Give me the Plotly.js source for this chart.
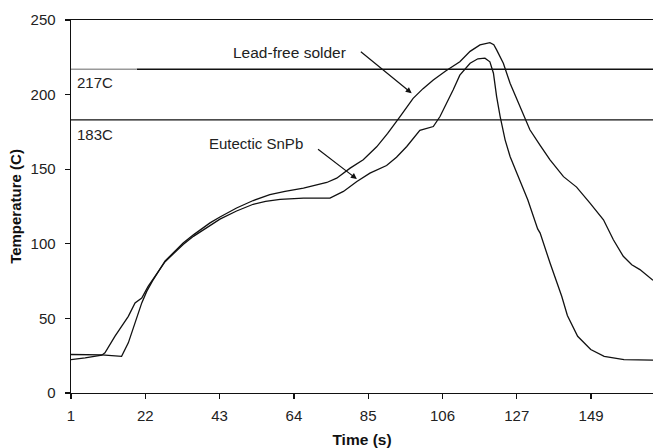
<!DOCTYPE html>
<html>
<head>
<meta charset="utf-8">
<script src="https://cdn.plot.ly/plotly-3.0.1.min.js"></script>
<style>html,body{margin:0;padding:0;background:#fff;}#chart{width:653px;height:448px;}</style>
</head>
<body>
<div id="chart"></div>
<script>
// Lead-free solder profile
const leadFreeTime = [1, 9.7, 15.3, 17.2, 19.1, 21, 22.4, 24, 27.6, 30.9, 32.7, 35.6, 40.3, 43.1, 47.8, 52.5, 57.2, 61.5, 66.7, 73.3, 76.1, 79.9, 83.6, 87.4, 90.5, 94, 97.7, 100.5, 103.4, 107, 110.9, 113.8, 116.6, 119.4, 120.5, 121.3, 123.2, 125.1, 127.9, 130.7, 133.6, 136.4, 140.2, 143.9, 147.7, 151.5, 154.3, 157.1, 159.5, 161.8, 165.5];
const leadFreeTemp = [25.8, 25.5, 24.6, 33.6, 47, 60.4, 68.1, 75, 88.5, 96.5, 100.5, 106, 114, 118, 124, 129, 132.9, 135.2, 137.3, 141.1, 144, 150.7, 156.3, 165, 174, 185.3, 197.5, 204, 209.8, 216, 222, 229, 233.3, 234.8, 233.5, 230, 221, 207.6, 192, 176.4, 166, 156.3, 145, 138, 127.3, 116.1, 102.7, 91.6, 86, 82.7, 75.5];
// Eutectic SnPb profile
const snpbTime = [1, 5, 9.7, 10.6, 13.4, 15.8, 17.2, 19.1, 21, 22.8, 27.6, 30.9, 32.7, 35.6, 40.3, 43.1, 47.8, 52.5, 56, 60.1, 66.7, 74.2, 78, 81.8, 85.5, 90.2, 93, 95.9, 99.6, 103.4, 105.3, 107, 109, 110.9, 113.8, 116, 118, 119.4, 120.4, 121.3, 122.3, 123.7, 125.1, 127, 128.8, 130.1, 132.9, 133.6, 136.4, 139.7, 141.3, 144.2, 147.9, 151.7, 157.3, 165.5];
const snpbTemp = [22.4, 23.5, 25.3, 26.9, 38, 46, 51.4, 60.4, 63.7, 71.5, 88, 95.5, 99.5, 105, 112.5, 116.5, 122, 126.5, 128.5, 129.8, 130.6, 130.6, 135.1, 141.8, 147.4, 152.5, 158, 165.2, 176, 178.6, 185.3, 193, 203.1, 213, 221, 224, 224.4, 222, 214.3, 198.7, 185.3, 169.7, 158.5, 147.4, 136.2, 129.5, 110, 107.2, 87.1, 64.8, 52, 38, 29.1, 24.6, 22.4, 22];
// Melting point reference lines
const meltTemps = [217, 183];
const meltLabels = ['217C', '183C'];
// Axis ticks
const xTickVals = [1, 22, 43, 64, 85, 106, 127, 148];
const xTickText = ['1', '22', '43', '64', '85', '106', '127', '149'];
const yTickVals = [0, 50, 100, 150, 200, 250];

const FONT = '"Liberation Sans", Arial, sans-serif';

const traces = [
  {x: leadFreeTime, y: leadFreeTemp, type: 'scatter', mode: 'lines', name: 'Lead-free solder',
   line: {color: '#111', width: 1.3}, hoverinfo: 'skip'},
  {x: snpbTime, y: snpbTemp, type: 'scatter', mode: 'lines', name: 'Eutectic SnPb',
   line: {color: '#111', width: 1.3}, hoverinfo: 'skip'}
];

const shapes = [
  {type: 'line', xref: 'paper', yref: 'y', x0: 0.113, x1: 1, y0: meltTemps[0], y1: meltTemps[0], line: {color: '#111', width: 1.3}},
  {type: 'line', xref: 'paper', yref: 'y', x0: 0, x1: 0.113, y0: meltTemps[0], y1: meltTemps[0], line: {color: '#999', width: 1.6}},
  {type: 'line', xref: 'paper', yref: 'y', x0: 0, x1: 1, y0: meltTemps[1], y1: meltTemps[1], line: {color: '#111', width: 1.3}}
];

const annotations = [
  {x: 2.1, y: meltTemps[0] - 9, xref: 'x', yref: 'y', text: meltLabels[0], showarrow: false, xanchor: 'left', yanchor: 'middle', font: {family: FONT, size: 15, color: '#222'}},
  {x: 2.1, y: meltTemps[1] - 10, xref: 'x', yref: 'y', text: meltLabels[1], showarrow: false, xanchor: 'left', yanchor: 'middle', font: {family: FONT, size: 15, color: '#222'}},
  {x: 46.3, y: 228.4, xref: 'x', yref: 'y', text: 'Lead-free solder', showarrow: false, xanchor: 'left', yanchor: 'middle', font: {family: FONT, size: 15.5, color: '#222'}},
  {x: 39.5, y: 167.5, xref: 'x', yref: 'y', text: 'Eutectic SnPb', showarrow: false, xanchor: 'left', yanchor: 'middle', font: {family: FONT, size: 15, color: '#222'}},
  {x: 97.3, y: 200.9, ax: 82.5, ay: 229.5, xref: 'x', yref: 'y', axref: 'x', ayref: 'y', text: '', showarrow: true, arrowhead: 2, arrowsize: 1, arrowwidth: 1.2, arrowcolor: '#111', standoff: 0, startstandoff: 0},
  {x: 81.8, y: 143.4, ax: 70.4, ay: 164.1, xref: 'x', yref: 'y', axref: 'x', ayref: 'y', text: '', showarrow: true, arrowhead: 2, arrowsize: 1, arrowwidth: 1.2, arrowcolor: '#111', standoff: 0, startstandoff: 0}
];

const layout = {
  width: 653, height: 448,
  margin: {l: 71, r: 0, t: 20, b: 55, pad: 0},
  paper_bgcolor: '#fff', plot_bgcolor: '#fff',
  showlegend: false,
  font: {family: FONT, size: 15, color: '#222'},
  xaxis: {
    range: [1, 165.5], showgrid: false, zeroline: false,
    showline: true, linecolor: '#111', linewidth: 1.4, mirror: true,
    ticks: 'outside', ticklen: 5, tickwidth: 1.3, tickcolor: '#111',
    tickvals: xTickVals, ticktext: xTickText, ticklabelstandoff: 4,
    tickfont: {family: FONT, size: 15, color: '#222'},
    title: {text: '<b>Time (s)</b>', font: {family: FONT, size: 15.5, color: '#111'}, standoff: 11}
  },
  xaxis2: {
    overlaying: 'x', matches: 'x', anchor: 'y', side: 'bottom',
    range: [1, 165.5], showgrid: false, zeroline: false, showline: false,
    ticks: 'inside', ticklen: 5, tickwidth: 1.3, tickcolor: '#111',
    tickvals: xTickVals, showticklabels: false
  },
  yaxis: {
    range: [0, 250], showgrid: false, zeroline: false,
    showline: true, linecolor: '#111', linewidth: 1.4,
    ticks: 'outside', ticklen: 5, tickwidth: 1.3, tickcolor: '#111',
    tickvals: yTickVals, ticklabelstandoff: 6,
    tickfont: {family: FONT, size: 15, color: '#222'},
    title: {text: '<b>Temperature (C)</b>', font: {family: FONT, size: 15, color: '#111'}, standoff: 5}
  },
  shapes: shapes,
  annotations: annotations
};

Plotly.newPlot('chart', traces, layout, {staticPlot: true, displayModeBar: false});
</script>
</body>
</html>
